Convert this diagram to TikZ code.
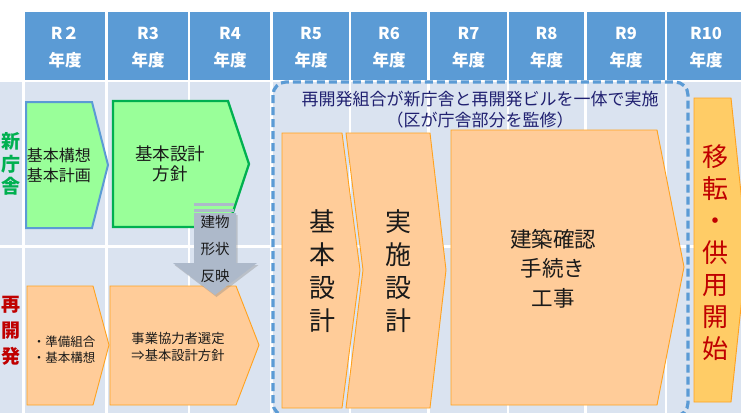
\documentclass[tikz,border=0pt]{standalone}
\usepackage{fontspec}
\setmainfont{Noto Sans CJK JP}
\usetikzlibrary{shadows}
\definecolor{hdr}{HTML}{5B9BD5}
\definecolor{cell}{HTML}{DAE3F0}
\definecolor{lgreen}{HTML}{99FF99}
\definecolor{dgreen}{HTML}{00B050}
\definecolor{lorange}{HTML}{FFCC99}
\definecolor{borange}{HTML}{FFA21F}
\definecolor{yorange}{HTML}{FFCC66}
\definecolor{dred}{HTML}{C00000}
\definecolor{navy}{HTML}{202070}
\definecolor{agray}{HTML}{ADB9CA}
\definecolor{txt}{HTML}{1A1A1A}
\begin{document}
\begin{tikzpicture}[x=1pt,y=-1pt,
  hdrtext/.style={text=white, font=\fontsize{16.5}{27}\selectfont\bfseries, align=center, inner sep=0pt},
  obox/.style={fill=lorange, draw=borange, line width=0.9pt, line join=miter},
  btext/.style={text=txt, align=center, inner sep=0pt},
  vtext/.style={text=txt, align=center, inner sep=0pt, font=\fontsize{26}{33}\selectfont},
]
\useasboundingbox (0,0) rectangle (741,412);
\clip (0,0) rectangle (741,412);
\fill[white] (0,0) rectangle (741,412);
% header cells
\foreach \a/\b/\t [count=\i] in {25/105/R２, 108/188/R3, 190/270/R4, 273/349/R5, 351/427/R6, 430/507/R7, 509/584/R8, 587/665/R9, 667/745/R10}{
  \fill[hdr] (\a,12) rectangle (\b,80);
  \node[hdrtext] (h\i) at ({(\a+\b)/2},47.5) {\t\\年度};
}
% body cells
\foreach \a/\b in {0/22, 25/105, 108/188, 190/270, 273/349, 351/427, 430/507, 509/584, 587/665, 667/745}{
  \fill[cell] (\a,82) rectangle (\b,245);
  \fill[cell] (\a,248) rectangle (\b,415);
}
% row labels
\node[text=dgreen, align=center, inner sep=0pt, font=\fontsize{19}{22.5}\selectfont\bfseries] (lab1) at (11,164) {新\\庁\\舎};
\node[text=dred, align=center, inner sep=0pt, font=\fontsize{19}{26}\selectfont\bfseries] (lab2) at (11,331) {再\\開\\発};
% green boxes
\draw[fill=lgreen, draw=hdr, line width=2pt, line join=miter] (26,102) -- (92,102) -- (108,165) -- (92,228) -- (26,228) -- cycle;
\node[btext, font=\fontsize{16}{19.5}\selectfont] (t1) at (59,165.5) {基本構想\\基本計画};
\draw[fill=lgreen, draw=dgreen, line width=2.3pt, line join=miter] (113,101) -- (228,101) -- (249,164) -- (228,227) -- (113,227) -- cycle;
\node[btext, font=\fontsize{17.5}{20}\selectfont] (t2) at (170,164) {基本設計\\方針};
% bottom row orange boxes
\draw[obox] (27,286) -- (93,286) -- (109,345) -- (93,405) -- (27,405) -- cycle;
\node[btext, align=left, font=\fontsize{12.5}{16}\selectfont] (t3) at (64,349.5) {・準備組合\\・基本構想};
\draw[obox] (110,286) -- (236,286) -- (259,345) -- (236,405) -- (110,405) -- cycle;
\node[btext, font=\fontsize{13.3}{17}\selectfont] (t4) at (178,346.5) {事業協力者選定\\⇒基本設計方針};
% gray arrow
\fill[agray, drop shadow={opacity=0.35, shadow xshift=1.5pt, shadow yshift=-2pt}] (194,213) -- (236,213) -- (236,263) -- (257,263) -- (215,295) -- (173,263) -- (194,263) -- cycle;
\fill[agray] (194,203) rectangle (234,206);
\fill[agray] (194,209) rectangle (234,212);
\node[btext, font=\fontsize{14.5}{27}\selectfont] (ta) at (215,249) {建物\\形状\\反映};
% dashed joint box
\draw[hdr, line width=3.2pt, dash pattern=on 8pt off 4pt, rounded corners=13pt] (273,82) rectangle (688,416);
\node[text=navy, align=center, inner sep=0pt, font=\fontsize{17}{21}\selectfont] (tt) at (480,109.5) {再開発組合が新庁舎と再開発ビルを一体で実施\\（区が庁舎部分を監修）};
% stage boxes
\draw[obox] (282,133) -- (342,133) -- (360,270) -- (342,408) -- (282,408) -- cycle;
\node[vtext] (t5) at (322,271.5) {基\\本\\設\\計};
\draw[obox] (346,133) -- (430,133) -- (446,270) -- (430,408) -- (346,408) -- (363,270) -- cycle;
\node[vtext] (t6) at (398,271.5) {実\\施\\設\\計};
\draw[obox] (451,130) -- (657,130) -- (684,267) -- (657,405) -- (451,405) -- cycle;
\node[btext, font=\fontsize{21.5}{29.5}\selectfont] (t7) at (553,268.5) {建築確認\\手続き\\工事};
\draw[fill=yorange, draw=borange, line width=0.9pt, line join=miter] (694,98) -- (731,98) -- (747,250) -- (731,402) -- (694,402) -- cycle;
\node[text=dred, align=center, inner sep=0pt, font=\fontsize{26}{32}\selectfont] (t8) at (715,253) {移\\転\\・\\供\\用\\開\\始};
\end{tikzpicture}
\end{document}
